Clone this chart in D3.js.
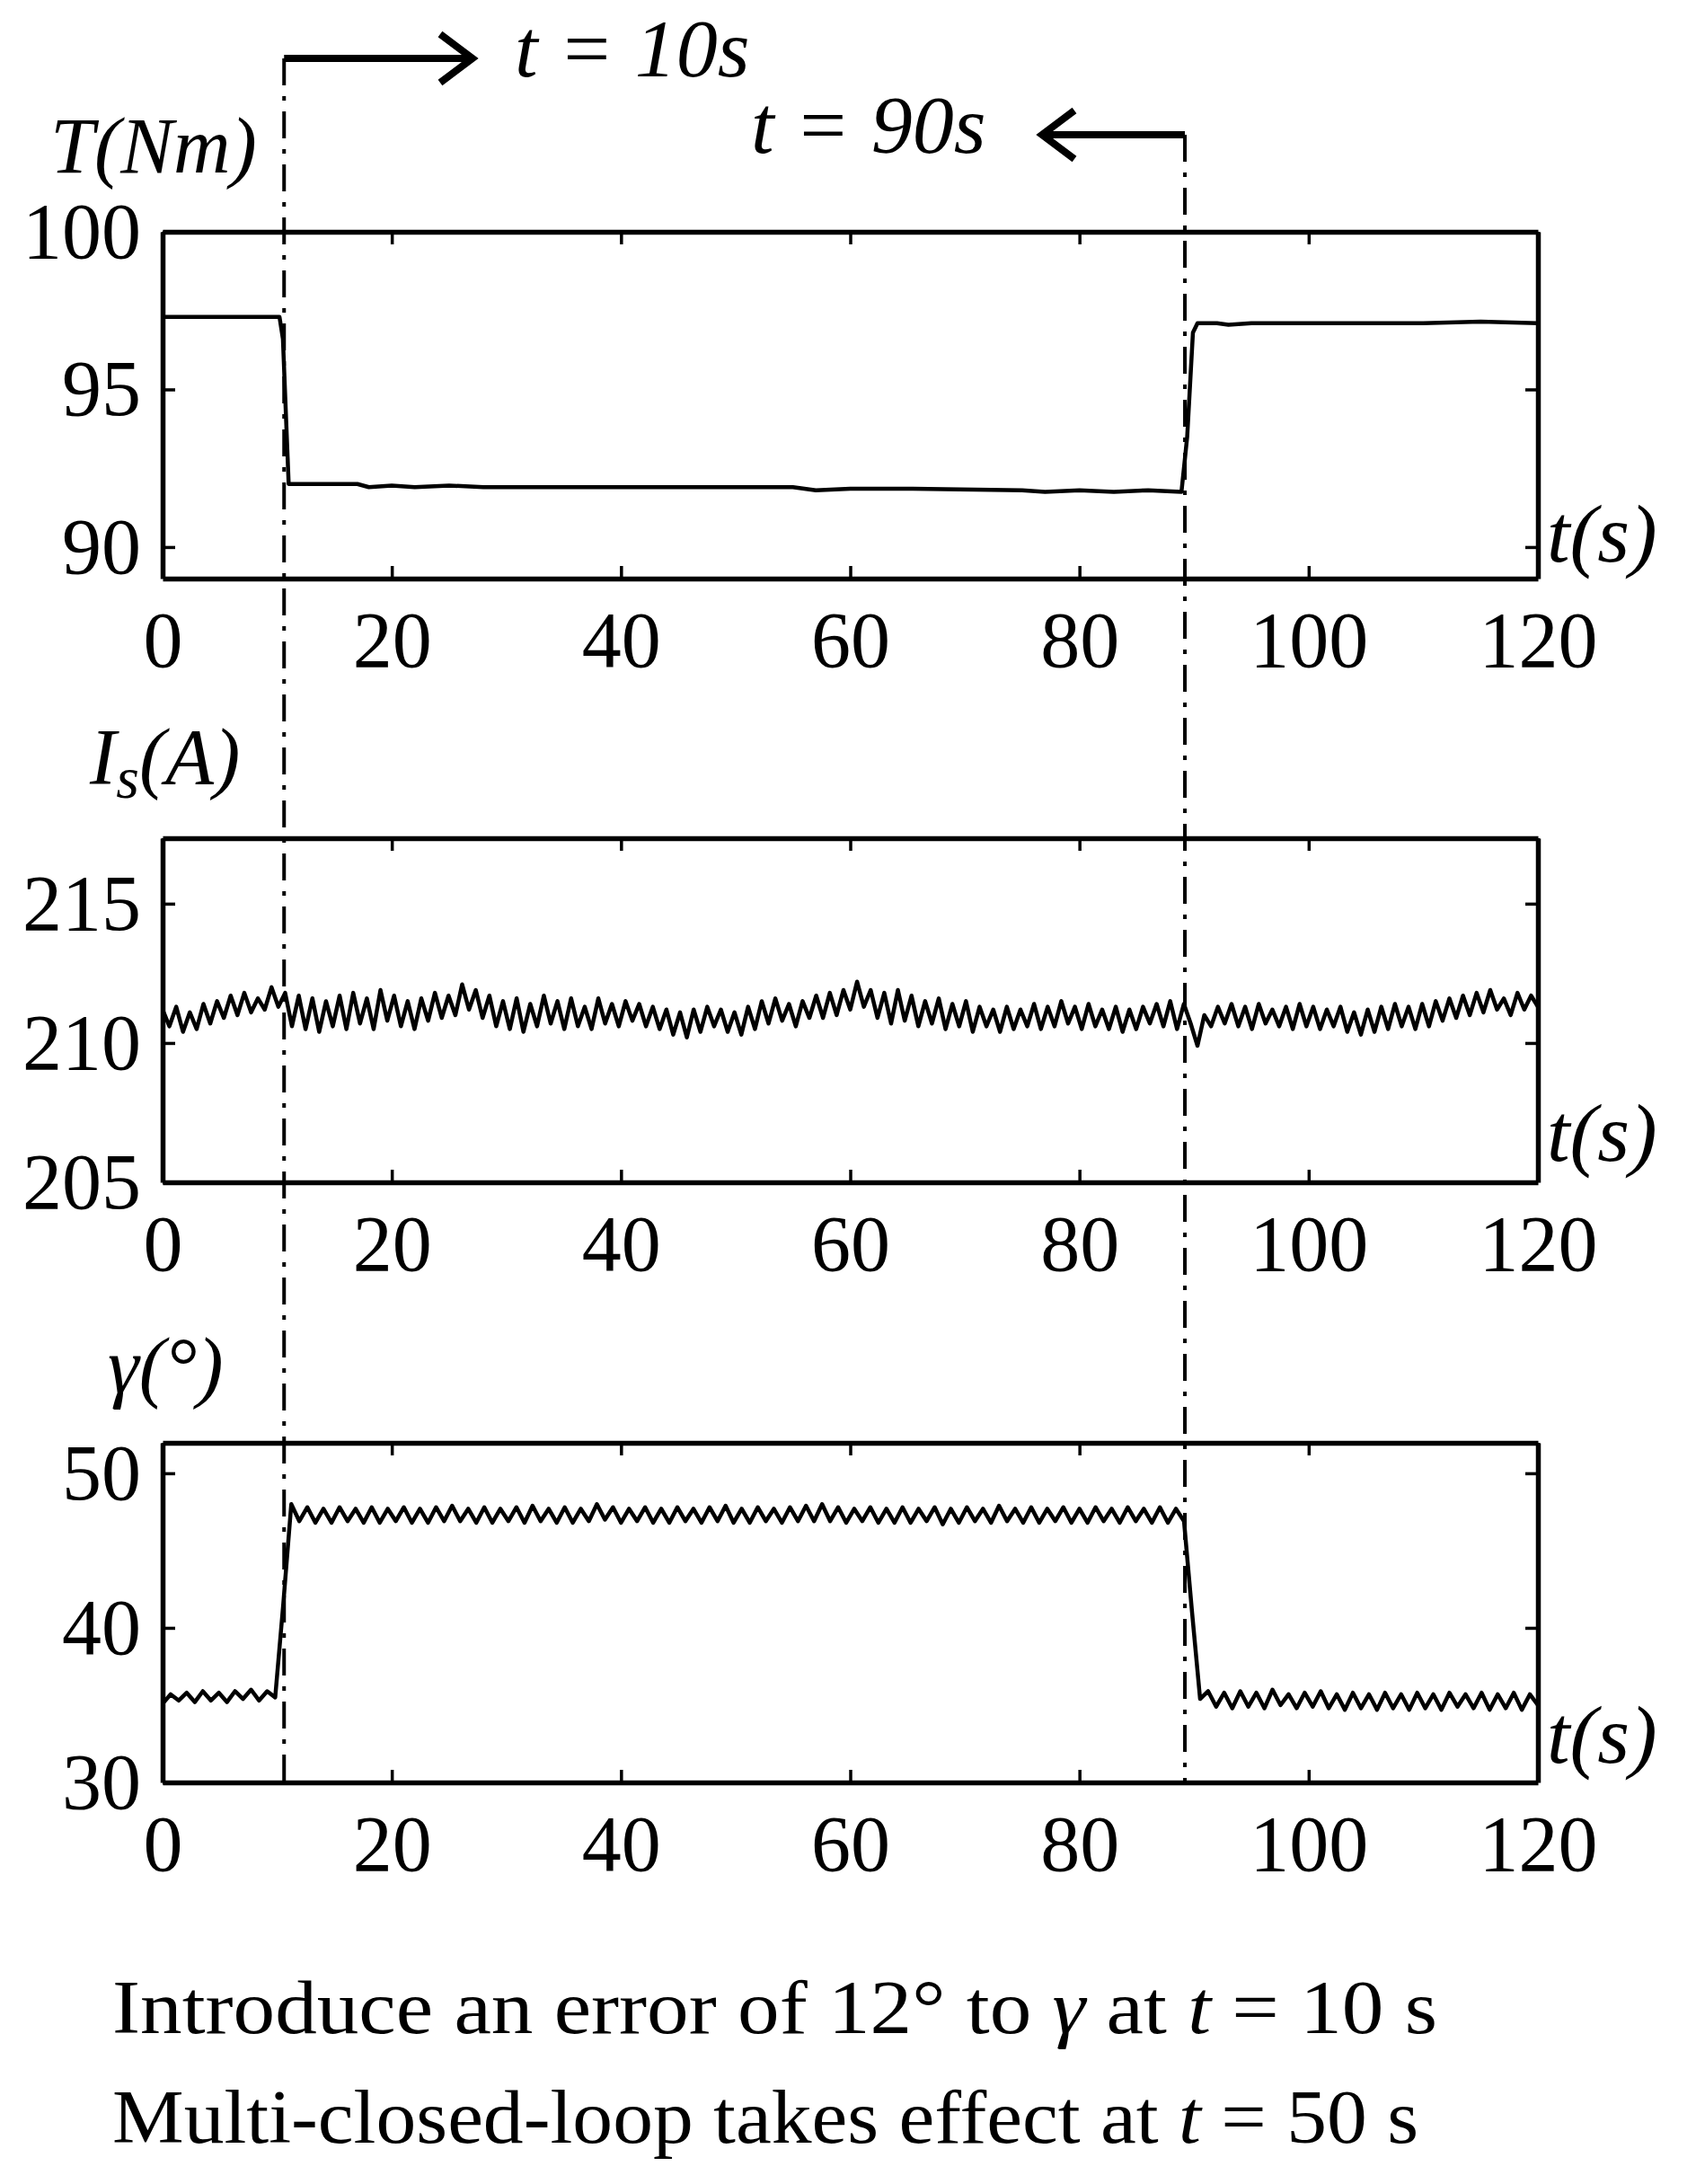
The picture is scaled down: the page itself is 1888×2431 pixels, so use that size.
<!DOCTYPE html>
<html><head><meta charset="utf-8">
<script src="https://cdn.jsdelivr.net/npm/d3@7"></script>
<style>body{margin:0;background:#fff}svg{display:block}</style>
</head><body><svg id="c" width="1888" height="2431"></svg>
<script>
const xTicks=[0,20,40,60,80,100,120];
const eventTimes=[10.6,89.2];
const torqueT=[0,10.2,10.5,11.0,12,17,18,20,22,25,28,30,40,50,55,57,60,65,75,77,80,83,86,88.9,89.4,89.9,90.3,92,93,95,110,115,120];
const torqueV=[97.3,97.3,96.6,92.0,92.0,92.0,91.9,91.95,91.9,91.95,91.9,91.9,91.9,91.9,91.9,91.8,91.85,91.85,91.8,91.75,91.8,91.75,91.8,91.75,93.5,96.8,97.1,97.1,97.05,97.1,97.1,97.15,97.1];
const currentV=[211.2,210.6,211.3,210.4,211.1,210.5,211.4,210.7,211.5,210.9,211.7,211.0,211.8,211.1,211.6,211.2,212.0,
211.3,211.8,210.6,211.7,210.5,211.6,210.4,211.5,210.6,211.7,210.5,211.8,210.7,211.6,210.5,211.9,210.8,
211.7,210.6,211.5,210.5,211.6,210.8,211.8,210.9,211.7,211.0,212.1,211.2,211.9,210.9,211.7,210.6,211.5,
210.5,211.6,210.4,211.4,210.6,211.7,210.7,211.5,210.5,211.6,210.6,211.3,210.5,211.6,210.7,211.4,210.6,
211.5,210.8,211.4,210.6,211.3,210.5,211.2,210.3,211.1,210.2,211.2,210.4,211.3,210.6,211.2,210.4,211.1,
210.3,211.3,210.5,211.5,210.7,211.6,210.8,211.4,210.6,211.5,210.9,211.7,210.9,211.8,211.0,211.9,211.2,
212.2,211.3,211.9,210.9,211.8,210.7,211.9,210.8,211.7,210.6,211.5,210.7,211.6,210.5,211.4,210.6,211.5,
210.4,211.3,210.6,211.2,210.4,211.3,210.5,211.2,210.6,211.4,210.5,211.3,210.6,211.5,210.7,211.3,210.5,
211.4,210.6,211.2,210.5,211.3,210.4,211.2,210.5,211.3,210.7,211.4,210.6,211.5,210.5,211.4,210.7,
209.9,211.0,210.6,211.3,210.7,211.4,210.6,211.3,210.5,211.4,210.7,211.2,210.6,211.3,210.5,211.4,210.6,211.3,210.5,211.2,210.6,211.3,210.4,211.1,210.3,211.2,210.4,211.3,210.5,211.4,210.6,211.3,210.5,211.4,210.6,211.5,210.8,211.6,210.9,211.7,211.0,211.8,211.1,211.9,211.2,211.6,211.0,211.8,211.2,211.7,211.3];
const gammaV=[35.1,35.7,35.3,35.8,35.2,35.9,35.3,35.8,35.2,35.9,35.4,36.0,35.3,35.9,35.5,
41.5,
48.0,46.9,47.8,46.8,47.7,46.8,47.8,46.9,47.7,46.8,47.8,46.8,47.7,46.9,47.8,46.8,47.7,46.8,47.8,46.9,
47.9,46.9,47.7,46.8,47.8,46.8,47.7,46.9,47.8,46.8,47.9,46.9,47.7,46.8,47.8,46.8,47.7,46.9,48.0,47.0,
47.8,46.8,47.7,46.9,47.8,46.8,47.7,46.8,47.8,46.9,47.7,46.8,47.8,46.9,47.9,46.8,47.7,46.8,47.8,46.9,
47.7,46.8,47.8,46.9,47.9,46.9,48.0,46.9,47.8,46.8,47.7,46.9,47.8,46.8,47.7,46.8,47.8,46.8,47.7,46.9,
47.8,46.7,47.7,46.8,47.8,46.9,47.7,46.8,47.9,46.9,47.7,46.8,47.8,46.8,47.7,46.9,47.8,46.8,47.7,46.8,
47.8,46.9,47.7,46.8,47.8,46.9,47.7,46.8,47.8,46.8,47.7,46.9,
41.0,
35.4,35.9,34.9,35.8,34.8,35.9,34.9,35.8,34.8,36.0,35.0,35.7,34.8,35.8,34.9,35.9,34.8,35.7,34.7,35.8,34.8,35.7,34.7,35.8,34.8,35.7,34.7,35.8,34.8,35.7,34.7,35.8,34.9,35.7,34.8,35.8,34.7,35.7,34.8,35.8,34.7,35.7,35.0];

const svg=d3.select("#c");
const X0=181,X1=1712;
const x=d3.scaleLinear().domain([0,120]).range([X0,X1]);
const serif="'Liberation Serif','Times New Roman',serif";
const panels=[
 {top:258,bot:644,dom:[89,100],ticks:[90,95,100],label:"T(Nm)",lx:56,ly:192,tsy:625,
  data:torqueT.map((t,i)=>[t,torqueV[i]])},
 {top:933,bot:1316,dom:[205,217.35],ticks:[205,210,215],label:"Is(A)",lx:100,ly:872,tsy:1292,
  data:currentV.map((v,i)=>[i*120/(currentV.length-1),v])},
 {top:1606,bot:1984,dom:[30,51.97],ticks:[30,40,50],label:"γ(°)",lx:120,ly:1550,tsy:1962,
  data:gammaV.map((v,i)=>[i*120/(gammaV.length-1),v])}
];
panels.forEach(p=>{
  const y=d3.scaleLinear().domain(p.dom).range([p.bot,p.top]);
  const g=svg.append("g");
  g.append("path").datum(p.data).attr("fill","none").attr("stroke","#000").attr("stroke-width",4.5)
   .attr("stroke-linejoin","round").attr("d",d3.line().x(d=>x(d[0])).y(d=>y(d[1])));
  const mk=(axis,tr)=>g.append("g").attr("transform",tr).call(axis)
    .call(s=>{s.select(".domain").attr("stroke","#000").attr("stroke-width",5.5);s.selectAll("line").attr("stroke","#000").attr("stroke-width",3.5);
      s.selectAll("text").attr("font-family",serif).attr("font-size",88).attr("fill","#000");});
  mk(d3.axisBottom(x).tickValues(xTicks).tickSizeInner(-14).tickSizeOuter(0).tickPadding(36),`translate(0,${p.bot})`);
  mk(d3.axisTop(x).tickValues(xTicks).tickSizeInner(-14).tickSizeOuter(0).tickFormat(""),`translate(0,${p.top})`);
  mk(d3.axisLeft(y).tickValues(p.ticks).tickSizeInner(-14).tickSizeOuter(0).tickPadding(24),`translate(${X0},0)`);
  mk(d3.axisRight(y).tickValues(p.ticks).tickSizeInner(-14).tickSizeOuter(0).tickFormat(""),`translate(${X1},0)`);
  const lab=g.append("text").attr("x",p.lx).attr("y",p.ly).attr("font-family",serif).attr("font-style","italic").attr("font-size",88);
  if(p.label==="Is(A)"){lab.append("tspan").text("I");lab.append("tspan").attr("dy",16).attr("font-size",66).text("s");lab.append("tspan").attr("dy",-16).text("(A)");}
  else lab.text(p.label);
  g.append("text").attr("x",1722).attr("y",p.tsy).attr("font-family",serif).attr("font-style","italic").attr("font-size",92).text("t(s)");
});
eventTimes.forEach((t,i)=>{
  svg.append("line").attr("x1",x(t)).attr("x2",x(t)).attr("y1",i?150:65).attr("y2",1986)
   .attr("stroke","#000").attr("stroke-width",4).attr("stroke-dasharray","30,12,5,12");
});
svg.append("line").attr("x1",x(eventTimes[0])).attr("x2",526).attr("y1",65).attr("y2",65).attr("stroke","#000").attr("stroke-width",8);
svg.append("path").attr("d","M490,38 L526,65 L490,92").attr("fill","none").attr("stroke","#000").attr("stroke-width",8);
svg.append("line").attr("x1",x(eventTimes[1])).attr("x2",1160).attr("y1",150).attr("y2",150).attr("stroke","#000").attr("stroke-width",8);
svg.append("path").attr("d","M1196,123 L1160,150 L1196,177").attr("fill","none").attr("stroke","#000").attr("stroke-width",8);
svg.append("text").attr("x",573).attr("y",85).attr("font-family",serif).attr("font-size",92).attr("font-style","italic").text("t = 10s");
svg.append("text").attr("x",836).attr("y",170).attr("font-family",serif).attr("font-size",92).attr("font-style","italic").text("t = 90s");
const f1=svg.append("text").attr("x",125).attr("y",2263).attr("font-family",serif).attr("font-size",84).attr("textLength",1475).attr("lengthAdjust","spacingAndGlyphs");
f1.append("tspan").text("Introduce an error of 12° to  ");f1.append("tspan").attr("font-style","italic").text("γ");
f1.append("tspan").text("  at ");f1.append("tspan").attr("font-style","italic").text("t");f1.append("tspan").text(" = 10 s");
const f2=svg.append("text").attr("x",125).attr("y",2385).attr("font-family",serif).attr("font-size",84).attr("textLength",1454).attr("lengthAdjust","spacingAndGlyphs");
f2.append("tspan").text("Multi-closed-loop takes effect at ");f2.append("tspan").attr("font-style","italic").text("t");f2.append("tspan").text(" = 50 s");
</script></body></html>
